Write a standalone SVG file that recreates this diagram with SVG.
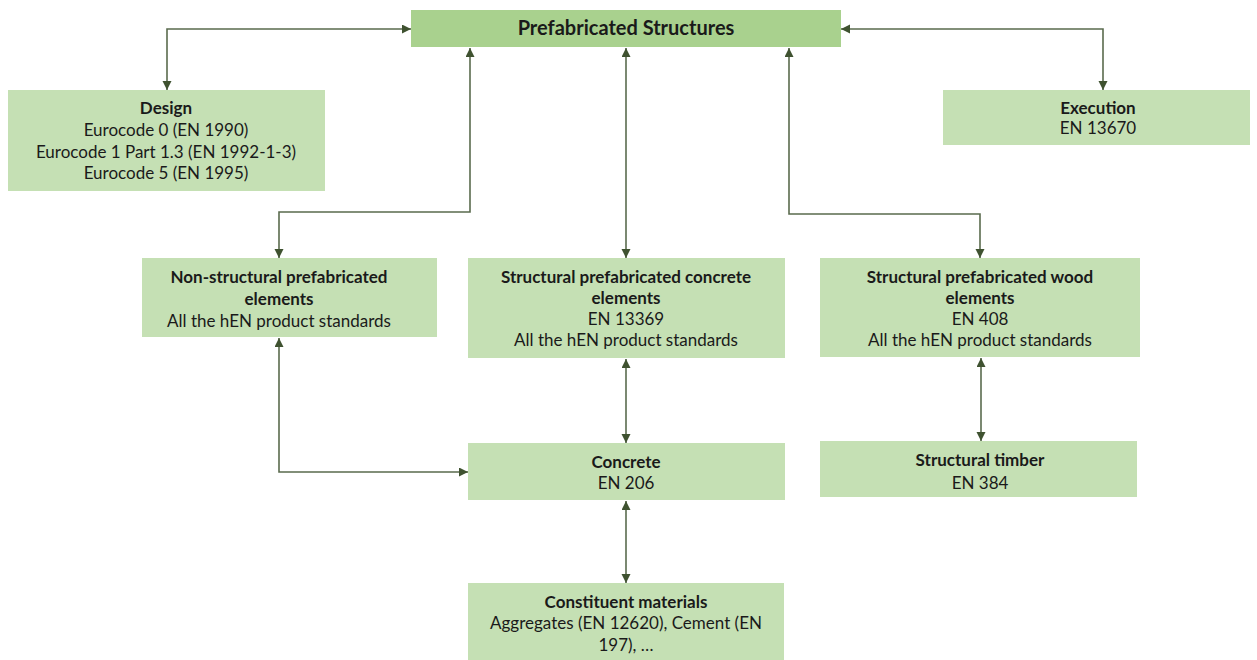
<svg xmlns="http://www.w3.org/2000/svg" width="1257" height="660" viewBox="0 0 1257 660">
<style>
.box{fill:#c5e0b4}
.top{fill:#a9d18e}
text{font-family:Lato,"Liberation Sans",sans-serif;font-size:17px;fill:#1a1a1a;text-anchor:middle}
.b{font-weight:bold}
.t{font-size:20px;font-weight:bold}
.c{fill:none;stroke:#5a6b4e;stroke-width:1.6}
</style>
<defs>
<marker id="ah" markerUnits="userSpaceOnUse" markerWidth="10" markerHeight="10" refX="9" refY="4.5" orient="auto-start-reverse">
<path d="M0,0 L9,4.5 L0,9 z" fill="#3f5230"/>
</marker>
</defs>
<rect width="1257" height="660" fill="#ffffff"/>
<g id="connectors">
<path class="c" d="M411,29 H167 V90" marker-start="url(#ah)" marker-end="url(#ah)"/>
<path class="c" d="M841,29 H1103 V90" marker-start="url(#ah)" marker-end="url(#ah)"/>
<path class="c" d="M470,48 V212 H279 V258" marker-start="url(#ah)" marker-end="url(#ah)"/>
<path class="c" d="M626,48 V258" marker-start="url(#ah)" marker-end="url(#ah)"/>
<path class="c" d="M789,48 V214 H980 V258" marker-start="url(#ah)" marker-end="url(#ah)"/>
<path class="c" d="M279,338 V472 H468" marker-start="url(#ah)" marker-end="url(#ah)"/>
<path class="c" d="M626,359 V443" marker-start="url(#ah)" marker-end="url(#ah)"/>
<path class="c" d="M626,501 V583" marker-start="url(#ah)" marker-end="url(#ah)"/>
<path class="c" d="M981,358 V441" marker-start="url(#ah)" marker-end="url(#ah)"/>
</g>
<g id="prefabricated">
<rect class="top" x="411" y="10" width="430" height="37"/>
<text class="t" x="626" y="35">Prefabricated Structures</text>
</g>
<g id="design">
<rect class="box" x="8" y="90" width="317" height="101"/>
<text class="b" x="166" y="114">Design</text>
<text x="166" y="136">Eurocode 0 (EN 1990)</text>
<text x="166" y="158">Eurocode 1 Part 1.3 (EN 1992-1-3)</text>
<text x="166" y="179">Eurocode 5 (EN 1995)</text>
</g>
<g id="execution">
<rect class="box" x="943" y="90" width="307" height="55"/>
<text class="b" x="1098" y="114">Execution</text>
<text x="1098" y="134">EN 13670</text>
</g>
<g id="nonstructural">
<rect class="box" x="142" y="258" width="295" height="79"/>
<text class="b" x="279" y="283">Non-structural prefabricated</text>
<text class="b" x="279" y="305">elements</text>
<text x="279" y="327">All the hEN product standards</text>
</g>
<g id="concreteelements">
<rect class="box" x="468" y="258" width="317" height="100"/>
<text class="b" x="626" y="283">Structural prefabricated concrete</text>
<text class="b" x="626" y="304">elements</text>
<text x="626" y="325">EN 13369</text>
<text x="626" y="346">All the hEN product standards</text>
</g>
<g id="woodelements">
<rect class="box" x="820" y="258" width="320" height="99"/>
<text class="b" x="980" y="283">Structural prefabricated wood</text>
<text class="b" x="980" y="304">elements</text>
<text x="980" y="325">EN 408</text>
<text x="980" y="346">All the hEN product standards</text>
</g>
<g id="concrete">
<rect class="box" x="468" y="443" width="317" height="57"/>
<text class="b" x="626" y="468">Concrete</text>
<text x="626" y="489">EN 206</text>
</g>
<g id="timber">
<rect class="box" x="820" y="441" width="317" height="56"/>
<text class="b" x="980" y="466">Structural timber</text>
<text x="980" y="489">EN 384</text>
</g>
<g id="constituent">
<rect class="box" x="468" y="583" width="316" height="77"/>
<text class="b" x="626" y="608">Constituent materials</text>
<text x="626" y="629">Aggregates (EN 12620), Cement (EN</text>
<text x="626" y="651">197), …</text>
</g>
</svg>
